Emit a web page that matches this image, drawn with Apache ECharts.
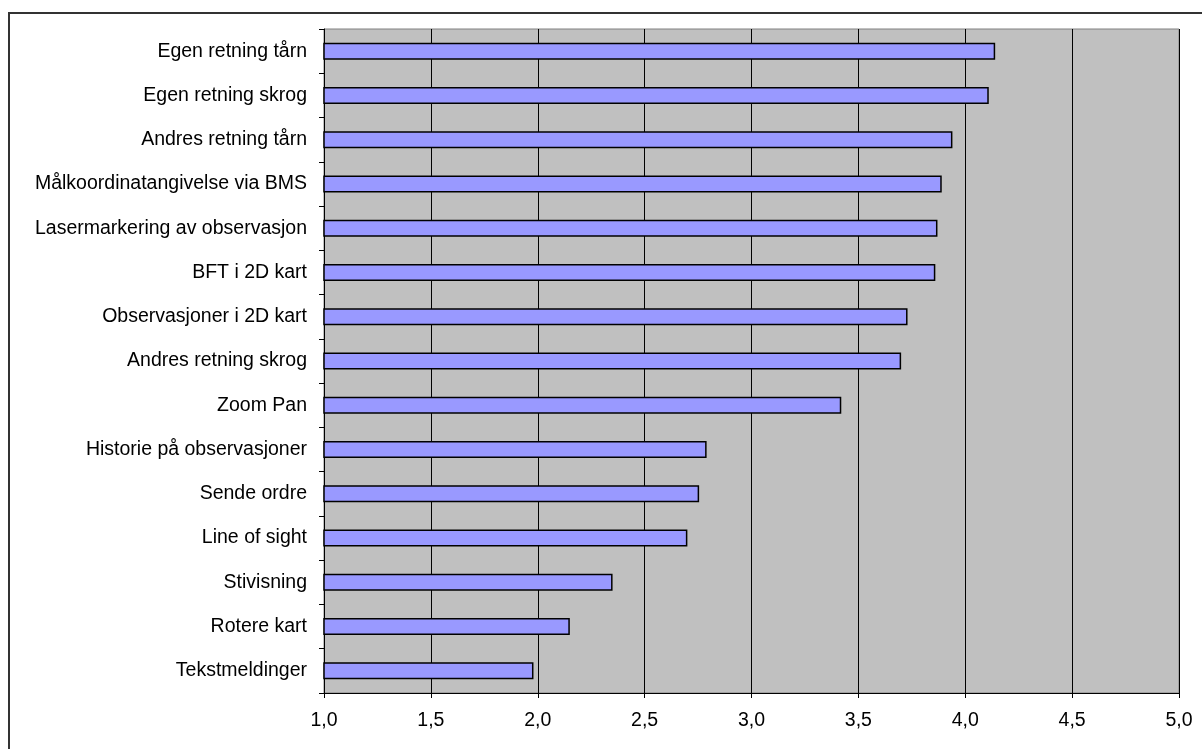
<!DOCTYPE html>
<html>
<head>
<meta charset="utf-8">
<script src="https://cdn.jsdelivr.net/npm/echarts@6/dist/echarts.min.js"></script>
<style>
  html, body { margin: 0; padding: 0; background: #ffffff; overflow: hidden; }
  #frame { position: absolute; left: 8px; top: 12px; width: 1300px; height: 800px; border-left: 2px solid #333; border-top: 2px solid #333; }
  #chart { position: absolute; left: 0; top: 0; width: 1202px; height: 749px; }
</style>
</head>
<body>
<div id="frame"></div>
<div id="chart"></div>
<script>
// Functions, listed top to bottom as shown
const categories = [
  'Egen retning tårn',
  'Egen retning skrog',
  'Andres retning tårn',
  'Målkoordinatangivelse via BMS',
  'Lasermarkering av observasjon',
  'BFT i 2D kart',
  'Observasjoner i 2D kart',
  'Andres retning skrog',
  'Zoom Pan',
  'Historie på observasjoner',
  'Sende ordre',
  'Line of sight',
  'Stivisning',
  'Rotere kart',
  'Tekstmeldinger'
];
// Mean score per function
const scores = [4.14, 4.11, 3.94, 3.89, 3.87, 3.86, 3.73, 3.70, 3.42, 2.79, 2.755, 2.70, 2.35, 2.15, 1.98];
const axisMin = 1.0;
const axisMax = 5.0;
const axisStep = 0.5;

const chart = echarts.init(document.getElementById('chart'), null, { renderer: 'canvas' });
const font = 'Liberation Sans, Arial, sans-serif';

chart.setOption({
  animation: false,
  grid: {
    left: 324, right: 23, top: 29, bottom: 56,
    show: true, backgroundColor: '#c0c0c0', borderColor: '#808080', borderWidth: 1
  },
  xAxis: {
    type: 'value',
    min: axisMin, max: axisMax, interval: axisStep,
    axisLine: { show: true, lineStyle: { color: '#000', width: 1 } },
    axisTick: { show: true, length: 5, lineStyle: { color: '#000' } },
    splitLine: { show: true, lineStyle: { color: '#000', width: 1 } },
    axisLabel: {
      color: '#000', fontFamily: font, fontSize: 19.5, margin: 18,
      formatter: v => v.toFixed(1).replace('.', ',')
    }
  },
  yAxis: {
    type: 'category',
    data: categories,
    inverse: true,
    axisLine: { show: true, lineStyle: { color: '#000', width: 1 } },
    axisTick: { show: true, length: 5, lineStyle: { color: '#000' } },
    axisLabel: { color: '#000', fontFamily: font, fontSize: 19.5, margin: 17 }
  },
  series: [{
    type: 'bar',
    data: scores,
    barWidth: 17,
    itemStyle: { color: '#9999ff', borderColor: '#000', borderWidth: 1.5 }
  }]
});
</script>
</body>
</html>
